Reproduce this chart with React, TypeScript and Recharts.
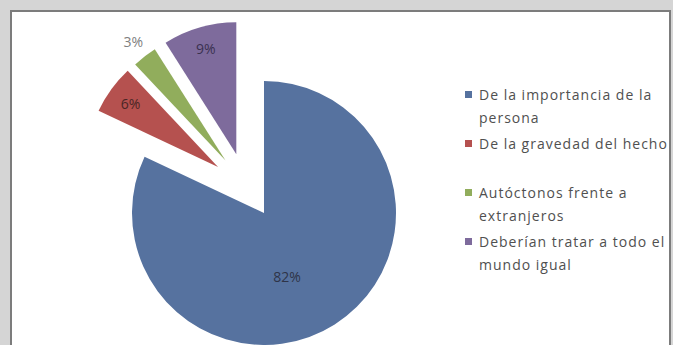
import React from 'react';
import { PieChart, Pie, Cell, Legend, Sector } from 'recharts';

// Chart data
const categories = [
  'De la importancia de la persona',
  'De la gravedad del hecho',
  'Autóctonos frente a extranjeros',
  'Deberían tratar a todo el mundo igual',
];
const shares = [82, 6, 3, 9];

const data = categories.map((name, i) => ({ name, value: shares[i] }));

// Styling
const COLORS = ['#56729f', '#b5514f', '#91ad5c', '#7e6b9c'];
const LABEL_COLORS = ['#2e3448', '#4a2626', '#808080', '#3a3150'];
const FONT = '"Open Sans", "DejaVu Sans", sans-serif';
const RAD = Math.PI / 180;
const EXPLODE = [0, 65, 65, 65]; // how far each slice is pulled out
const EXPLODE_TURN = [0, 9, 1.5, -9]; // clockwise tweak of the pull direction
const LABEL_R = [0.515, 0.82, 1.14, 0.83];
const LABEL_TURN = [12.6, 0, 0, 0];

const sliceIndex = (props: any) => {
  const name = props.name ?? props.payload?.name;
  const i = categories.indexOf(name);
  return i < 0 ? props.index ?? 0 : i;
};

const shift = (i: number, midAngle: number) => {
  const a = (midAngle - EXPLODE_TURN[i]) * RAD;
  return { dx: EXPLODE[i] * Math.cos(a), dy: -EXPLODE[i] * Math.sin(a) };
};

const renderSlice = (props: any) => {
  const i = sliceIndex(props);
  const { dx, dy } = shift(i, props.midAngle);
  return <Sector {...props} cx={props.cx + dx} cy={props.cy + dy} />;
};

const renderLabel = (props: any) => {
  const i = sliceIndex(props);
  const { dx, dy } = shift(i, props.midAngle);
  const a = (props.midAngle - LABEL_TURN[i]) * RAD;
  const r = props.outerRadius * LABEL_R[i];
  const x = props.cx + dx + r * Math.cos(a);
  const y = props.cy + dy - r * Math.sin(a);
  const total = shares.reduce((s, v) => s + v, 0);
  return (
    <text
      x={x}
      y={y}
      textAnchor="middle"
      dominantBaseline="central"
      fill={LABEL_COLORS[i]}
      fontSize={14}
      fontFamily={FONT}
    >
      {Math.round((shares[i] / total) * 100)}%
    </text>
  );
};

const renderLegend = (props: any) => {
  const payload = props.payload || [];
  const items = categories.map((name, i) => {
    const hit = payload.find((p: any) => p.value === name);
    return { value: name, color: hit?.color || COLORS[i] };
  });
  return (
    <div style={{ fontFamily: FONT, fontSize: 14, color: '#505050' }}>
      {items.map((item: any, i: number) => (
        <div key={i} style={{ display: 'flex', alignItems: 'flex-start', height: 49 }}>
          <div style={{ width: 7, height: 7, background: item.color, marginTop: 8, marginRight: 7, flexShrink: 0 }} />
          <div style={{ lineHeight: '23px', width: 196, letterSpacing: 1 }}>{item.value}</div>
        </div>
      ))}
    </div>
  );
};

const App: React.FC = () => {
  return (
    <div style={{ position: 'absolute', left: 0, top: 0, width: 673, height: 345, background: '#d5d5d5', overflow: 'hidden' }}>
      <div
        style={{
          position: 'absolute',
          left: 10,
          top: 10,
          width: 657,
          height: 400,
          background: '#ffffff',
          border: '2px solid #7c7c7c',
          overflow: 'hidden',
        }}
      >
        <div style={{ position: 'absolute', left: -12, top: -12 }}>
          <PieChart width={673} height={345} margin={{ top: 0, right: 0, bottom: 0, left: 0 }}>
            <Pie
              data={data}
              dataKey="value"
              nameKey="name"
              cx={264}
              cy={213}
              outerRadius={132}
              startAngle={90}
              endAngle={-270}
              stroke="none"
              isAnimationActive={false}
              labelLine={false}
              label={renderLabel}
              shape={renderSlice}
              activeShape={renderSlice}
              inactiveShape={renderSlice}
            >
              {data.map((entry, index) => (
                <Cell key={`cell-${index}`} fill={COLORS[index]} />
              ))}
            </Pie>
            <Legend
              layout="vertical"
              align="right"
              verticalAlign="top"
              content={renderLegend}
              wrapperStyle={{ left: 465, top: 83, width: 210, right: 'auto' }}
            />
          </PieChart>
        </div>
      </div>
    </div>
  );
};

export default App;
